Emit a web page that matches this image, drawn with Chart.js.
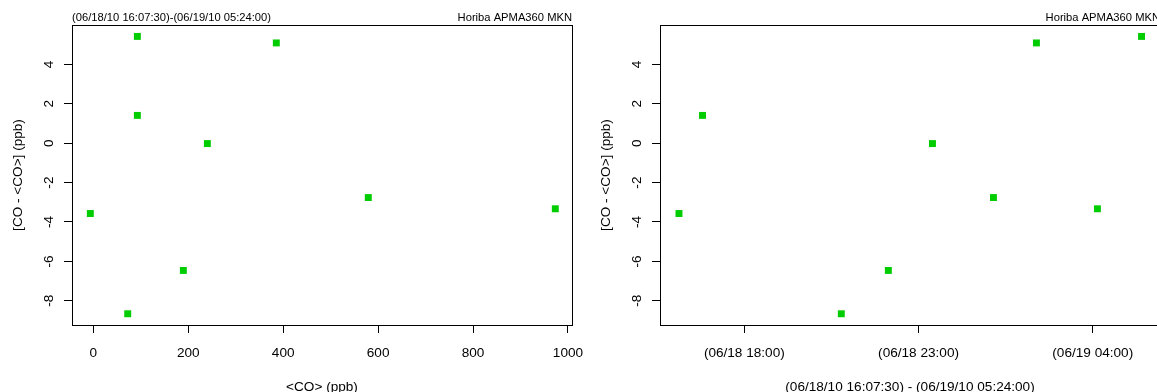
<!DOCTYPE html>
<html>
<head>
<meta charset="utf-8">
<script src="https://cdn.jsdelivr.net/npm/chart.js@4/dist/chart.umd.min.js"></script>
<style>
html, body { margin: 0; padding: 0; background: #fff; overflow: hidden; width: 1157px; height: 392px; }
canvas { position: absolute; top: 0; }
#left { left: 0; }
#right { left: 588px; }
</style>
</head>
<body>
<canvas id="left" width="588" height="400"></canvas>
<canvas id="right" width="588" height="400"></canvas>
<script>
// samples, 06/18/10 16:07:30 - 06/19/10 05:24:00
const sampleTimes = ['06/18 16:07:30', '06/18 16:48', '06/18 20:47', '06/18 22:08', '06/18 23:24',
                     '06/19 01:09', '06/19 02:23', '06/19 04:08', '06/19 05:24'];
const coMean = [-6.4, 92.7, 72.4, 189.6, 240.2, 579.3, 385.5, 973.3, 92.7];   // <CO> (ppb)
const coDev = [-3.57, 1.41, -8.66, -6.46, -0.02, -2.76, 5.09, -3.33, 5.42];    // CO - <CO> (ppb)

const devTicks = [-8, -6, -4, -2, 0, 2, 4];
const coTicks = [0, 200, 400, 600, 800, 1000];
const timeTicks = ['06/18 18:00', '06/18 23:00', '06/19 04:00'];
const timeTickLabels = ['(06/18 18:00)', '(06/18 23:00)', '(06/19 04:00)'];

const periodText = '(06/18/10 16:07:30)-(06/19/10 05:24:00)';
const periodTitle = '(06/18/10 16:07:30) - (06/19/10 05:24:00)';
const instrument = 'Horiba APMA360 MKN';

// hours since 06/18 00:00
function toHours(s) {
  const [date, time] = s.split(' ');
  const day = +date.split('/')[1];
  const [h, m, sec] = time.split(':').map(Number);
  return (day - 18) * 24 + h + m / 60 + (sec || 0) / 3600;
}

const FAMILY = '"Liberation Sans", Arial, Helvetica, sans-serif';
const font = { family: FAMILY, size: 13.6, lineHeight: 1 };

// box round the plot and the small texts above it
const frame = {
  id: 'frame',
  afterDraw(chart, args, opts) {
    const { ctx, chartArea: a } = chart;
    ctx.save();
    ctx.strokeStyle = '#000';
    ctx.lineWidth = 1;
    ctx.strokeRect(Math.round(a.left) + 0.5, Math.round(a.top) + 0.5,
                   Math.round(a.right - a.left), Math.round(a.bottom - a.top));
    ctx.font = '11.2px ' + FAMILY;
    ctx.fillStyle = '#000';
    ctx.textBaseline = 'alphabetic';
    if (opts.leftText) { ctx.textAlign = 'left'; ctx.fillText(opts.leftText, a.left, 20.5); }
    if (opts.rightText) { ctx.textAlign = 'right'; ctx.fillText(opts.rightText, a.right, 20.5); }
    ctx.restore();
  }
};

function makeChart(id, xs, xMin, xMax, xTickVals, xLabel, xTitle, leftText) {
  const points = xs.map((x, i) => ({ x: x, y: coDev[i] }));
  return new Chart(document.getElementById(id), {
    type: 'scatter',
    data: {
      datasets: [{
        data: points,
        pointStyle: 'rect',
        pointRadius: 4.9,
        pointBorderWidth: 0,
        backgroundColor: '#00CD00',
        borderColor: '#00CD00'
      }]
    },
    options: {
      responsive: false,
      animation: false,
      devicePixelRatio: 1,
      layout: { padding: { top: 25, right: 16, bottom: 0, left: 0 } },
      plugins: {
        legend: { display: false },
        tooltip: { enabled: false },
        frame: { leftText: leftText, rightText: instrument }
      },
      scales: {
        x: {
          type: 'linear',
          min: xMin,
          max: xMax,
          afterBuildTicks: s => { s.ticks = xTickVals.map(v => ({ value: v })); },
          afterFit: s => { s.height = 75; s.paddingLeft = 0; s.paddingRight = 0; },
          grid: { drawOnChartArea: false, tickLength: 8, color: '#000' },
          border: { color: '#000' },
          ticks: { color: '#000', font: font, padding: 13.7, maxRotation: 0, autoSkip: false,
                   callback: (v, i) => xLabel(v, i) },
          title: { display: true, text: xTitle, color: '#000', font: font, padding: { top: 0, bottom: 6.2 } }
        },
        y: {
          min: -9.23,
          max: 6.0,
          afterBuildTicks: s => { s.ticks = devTicks.map(v => ({ value: v })); },
          afterFit: s => { s.width = 72; s.paddingTop = 0; s.paddingBottom = 0; },
          grid: { drawOnChartArea: false, tickLength: 8, color: '#000' },
          border: { color: '#000' },
          ticks: { color: '#000', font: font, padding: 8.5, minRotation: 90, maxRotation: 90,
                   crossAlign: 'center', autoSkip: false },
          title: { display: true, text: '[CO - <CO>] (ppb)', color: '#000', font: font,
                   padding: { top: 11.9, bottom: 0 } }
        }
      }
    },
    plugins: [frame]
  });
}

makeChart('left', coMean, -45, 1008.5, coTicks, v => String(v), '<CO> (ppb)', periodText);

const hours = sampleTimes.map(toHours);
const tickHours = timeTicks.map(toHours);
makeChart('right', hours, 15.58, 29.93, tickHours,
          (v, i) => timeTickLabels[i], periodTitle, null);
</script>
</body>
</html>
